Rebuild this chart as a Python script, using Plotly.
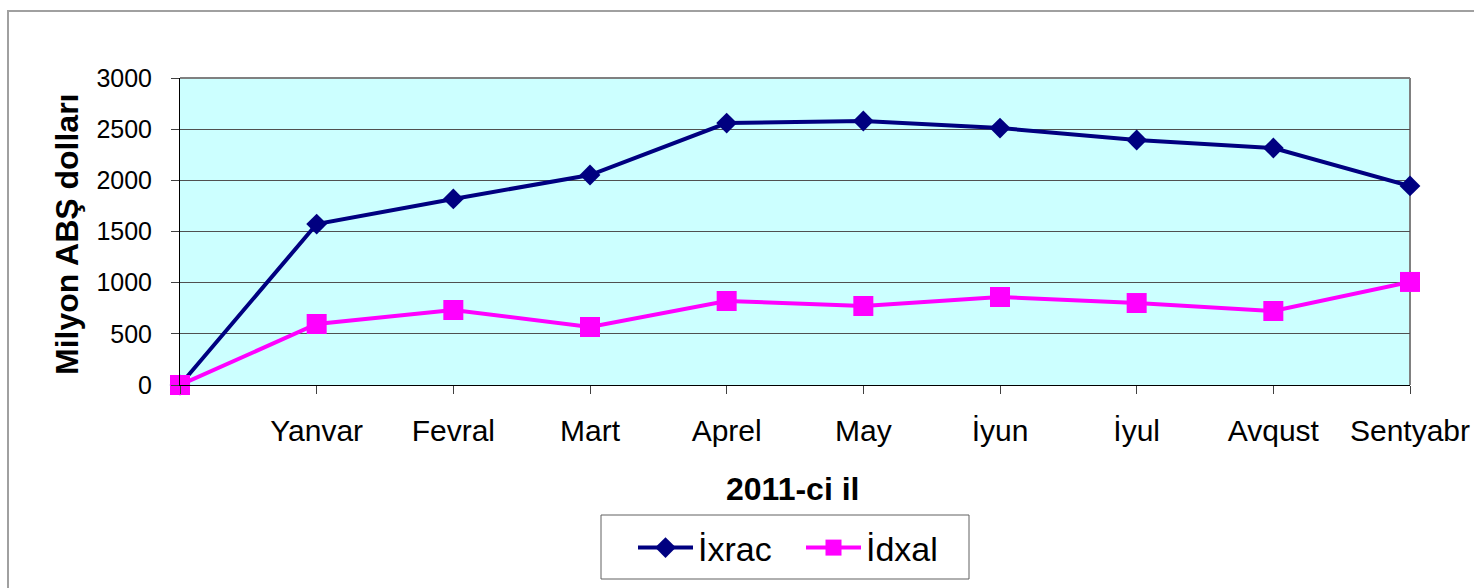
import plotly.graph_objects as go

categories = ["", "Yanvar", "Fevral", "Mart", "Aprel", "May", "İyun", "İyul", "Avqust", "Sentyabr"]
ixrac = [0, 1573, 1818, 2052, 2560, 2580, 2511, 2394, 2316, 1945]
idxal = [0, 596, 733, 567, 821, 772, 860, 801, 723, 1007]
y_ticks = [0, 500, 1000, 1500, 2000, 2500, 3000]

W, H = 1474, 588
L, R, T, B = 180, 1410, 78, 385
pw, ph = R - L, B - T


def px(x):
    return (x - L) / pw


def py(y):
    return (B - y) / ph


FONT = "Arial, Liberation Sans, sans-serif"
xs = list(range(len(categories)))

fig = go.Figure()
fig.add_trace(go.Scatter(
    x=xs, y=ixrac, name="İxrac", mode="lines+markers",
    line=dict(color="#000080", width=4),
    marker=dict(symbol="diamond", size=16, color="#000080"),
    cliponaxis=False,
))
fig.add_trace(go.Scatter(
    x=xs, y=idxal, name="İdxal", mode="lines+markers",
    line=dict(color="#FF00FF", width=4),
    marker=dict(symbol="square", size=20, color="#FF00FF"),
    cliponaxis=False,
))

shapes = [
    # outer chart border
    dict(type="rect", xref="paper", yref="paper", x0=px(8), x1=px(1490), y0=py(600), y1=py(11),
         line=dict(color="#A0A0A0", width=2), layer="below"),
    # plot top/right border
    dict(type="line", xref="paper", yref="paper", x0=0, x1=1, y0=1, y1=1,
         line=dict(color="#808080", width=2), layer="below"),
    dict(type="line", xref="paper", yref="paper", x0=1, x1=1, y0=0, y1=1,
         line=dict(color="#808080", width=2), layer="below"),
    # legend box
    dict(type="rect", xref="paper", yref="paper", x0=px(601), x1=px(969), y0=py(579), y1=py(515),
         line=dict(color="#606060", width=1)),
]

fig.update_layout(
    width=W, height=H,
    margin=dict(l=L, r=W - R, t=T, b=H - B, autoexpand=False),
    paper_bgcolor="white",
    plot_bgcolor="#CCFFFF",
    font=dict(family=FONT, color="black"),
    showlegend=True,
    legend=dict(
        orientation="h", x=px(633), y=py(548), xanchor="left", yanchor="middle",
        font=dict(size=34, family=FONT, color="black"),
        bgcolor="rgba(0,0,0,0)", borderwidth=0, itemwidth=55,
        entrywidth=98, entrywidthmode="pixels",
        itemclick=False, itemdoubleclick=False,
    ),
    shapes=shapes,
    annotations=[
        dict(text="<b>2011-ci il</b>", xref="paper", yref="paper", x=px(792), y=py(489),
             showarrow=False, font=dict(size=32, family=FONT, color="black"),
             xanchor="center", yanchor="middle"),
        dict(text="<b>Milyon ABŞ dolları</b>", xref="paper", yref="paper", x=px(67), y=py(234),
             showarrow=False, textangle=-90, font=dict(size=32, family=FONT, color="black"),
             xanchor="center", yanchor="middle"),
    ],
)

fig.update_xaxes(
    range=[0, len(categories) - 1], tickmode="array", tickvals=xs, ticktext=categories,
    showgrid=False, zeroline=False, showline=True, linecolor="black", linewidth=1,
    ticks="outside", ticklen=8, tickcolor="#404040",
    tickfont=dict(size=30, family=FONT, color="black"), ticklabelstandoff=11,
    fixedrange=True,
)
fig.update_yaxes(
    range=[0, 3000], tickmode="array", tickvals=y_ticks,
    showgrid=True, gridcolor="#505050", gridwidth=1, zeroline=False,
    showline=True, linecolor="black", linewidth=1,
    ticks="outside", ticklen=8, tickcolor="#404040",
    tickfont=dict(size=25, family=FONT, color="black"), ticklabelstandoff=14,
    fixedrange=True,
)

fig.write_html(
    "out.html",
    config={"displayModeBar": False, "staticPlot": False},
    post_script="document.body.style.margin='0';document.body.style.overflow='hidden';",
)
